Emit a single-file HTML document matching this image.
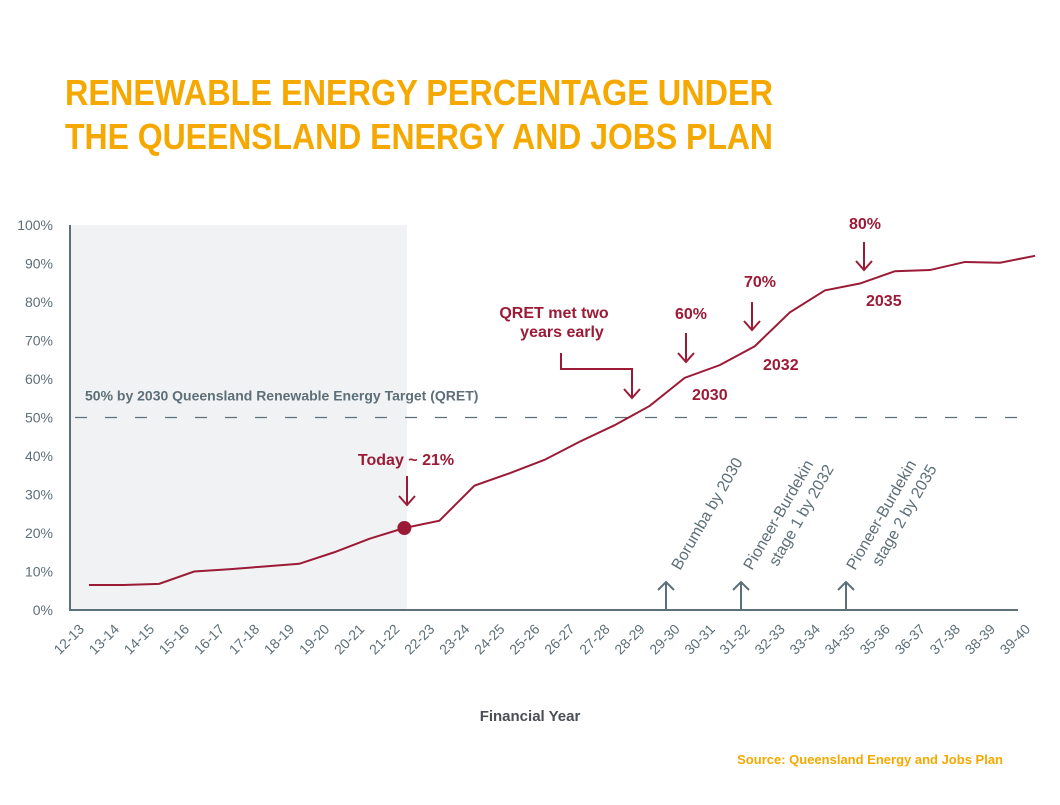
<!DOCTYPE html>
<html><head><meta charset="utf-8">
<style>
html,body{margin:0;padding:0;background:#fff;}
svg{display:block;font-family:"Liberation Sans",sans-serif;}
</style></head>
<body>
<svg id="chart" width="1060" height="805" viewBox="0 0 1060 805" xmlns="http://www.w3.org/2000/svg">
<text x="65" y="105" fill="#f5a800" font-weight="bold" font-size="36" textLength="708" lengthAdjust="spacingAndGlyphs">RENEWABLE ENERGY PERCENTAGE UNDER</text>
<text x="65" y="149" fill="#f5a800" font-weight="bold" font-size="36" textLength="708" lengthAdjust="spacingAndGlyphs">THE QUEENSLAND ENERGY AND JOBS PLAN</text>
<rect x="70" y="225" width="337" height="385" fill="#f1f2f4"/>
<g id="yticks"></g>
<g id="xticks"></g>
<line id="qret" x1="75" x2="1018" stroke="#5d6f78" stroke-width="1.2" stroke-dasharray="12,18"/>
<text id="qretLabel" x="85" fill="#5d6f78" font-weight="bold" font-size="14">50% by 2030 Queensland Renewable Energy Target (QRET)</text>
<line x1="70" y1="225" x2="70" y2="611" stroke="#5d6f78" stroke-width="2"/>
<line x1="69" y1="610" x2="1018" y2="610" stroke="#5d6f78" stroke-width="2"/>
<polyline id="series" fill="none" stroke="#9b1b37" stroke-width="2"/>
<circle id="today" r="7" fill="#9b1b37"/>
<g fill="#9b1b37" font-weight="bold" font-size="16">
<text x="406" y="465" text-anchor="middle">Today ~ 21%</text>
<path d="M407 476 V505 M399 496 L407 505 L415 496" stroke="#9b1b37" stroke-width="2" fill="none"/>
<text x="554" y="318" text-anchor="middle">QRET met two</text>
<text x="562" y="337" text-anchor="middle">years early</text>
<path d="M561 353 V369 H632 V398 M624 389 L632 398 L640 389" stroke="#9b1b37" stroke-width="2" fill="none"/>
<text x="691" y="319" text-anchor="middle">60%</text>
<path d="M686 333 V362 M678 353 L686 362 L694 353" stroke="#9b1b37" stroke-width="2" fill="none"/>
<text x="692" y="400">2030</text>
<text x="760" y="287" text-anchor="middle">70%</text>
<path d="M752 302 V330 M744 321 L752 330 L760 321" stroke="#9b1b37" stroke-width="2" fill="none"/>
<text x="763" y="370">2032</text>
<text x="865" y="229" text-anchor="middle">80%</text>
<path d="M864 242 V270 M856 261 L864 270 L872 261" stroke="#9b1b37" stroke-width="2" fill="none"/>
<text x="866" y="306">2035</text>
</g>
<g fill="#5d6f78" font-size="16">
<path d="M666 610 V582 M658 590 L666 582 L674 590" stroke="#5d6f78" stroke-width="2" fill="none"/>
<text transform="translate(680,571) rotate(-60)">Borumba by 2030</text>
<path d="M741 610 V582 M733 590 L741 582 L749 590" stroke="#5d6f78" stroke-width="2" fill="none"/>
<text transform="translate(752,571) rotate(-60)"><tspan x="0" dy="0">Pioneer-Burdekin</tspan><tspan x="16" dy="20">stage 1 by 2032</tspan></text>
<path d="M846 610 V582 M838 590 L846 582 L854 590" stroke="#5d6f78" stroke-width="2" fill="none"/>
<text transform="translate(855,571) rotate(-60)"><tspan x="0" dy="0">Pioneer-Burdekin</tspan><tspan x="16" dy="20">stage 2 by 2035</tspan></text>
</g>
<text x="530" y="721" text-anchor="middle" fill="#4a4f55" font-weight="bold" font-size="15">Financial Year</text>
<text x="1003" y="764" text-anchor="end" fill="#f5a800" font-weight="bold" font-size="13">Source: Queensland Energy and Jobs Plan</text>
</svg>
<script>
const categories = ["12-13","13-14","14-15","15-16","16-17","17-18","18-19","19-20","20-21","21-22","22-23","23-24","24-25","25-26","26-27","27-28","28-29","29-30","30-31","31-32","32-33","33-34","34-35","35-36","36-37","37-38","38-39","39-40"];
const renewableShare = [6.5,6.5,6.8,10,10.6,11.3,12,15,18.5,21.3,23.2,32.3,35.5,39,43.7,48,53,60.3,63.6,68.5,77.3,83,84.8,88,88.3,90.4,90.2,92];
const yTickValues = [0,10,20,30,40,50,60,70,80,90,100];
const targetValue = 50;
const todayIndex = 9;

const NS = "http://www.w3.org/2000/svg";
const xScale = i => 89 + i * 35.04;
const yScale = v => 610 - v * 3.85;

const yt = document.getElementById('yticks');
yTickValues.forEach(v => {
  const t = document.createElementNS(NS, 'text');
  
  
  t.setAttribute('x', 53); t.setAttribute('y', yScale(v) + 5);
  t.setAttribute('text-anchor', 'end'); t.setAttribute('fill', '#5d6f78'); t.setAttribute('font-size', '14');
  t.textContent = v + '%';
  yt.appendChild(t);
});
const xt = document.getElementById('xticks');
categories.forEach((c, i) => {
  const t = document.createElementNS(NS, 'text');
  
  
  t.setAttribute('transform', 'translate(' + (xScale(i) - 4) + ',630) rotate(-45)');
  t.setAttribute('text-anchor', 'end'); t.setAttribute('fill', '#5d6f78'); t.setAttribute('font-size', '14');
  t.textContent = c;
  xt.appendChild(t);
});
document.getElementById('series').setAttribute('points', renewableShare.map((v, i) => xScale(i) + ',' + yScale(v)).join(' '));
const q = document.getElementById('qret');
q.setAttribute('y1', yScale(targetValue)); q.setAttribute('y2', yScale(targetValue));
document.getElementById('qretLabel').setAttribute('y', yScale(targetValue) - 17);
const td = document.getElementById('today');
td.setAttribute('cx', xScale(todayIndex)); td.setAttribute('cy', yScale(renewableShare[todayIndex]));
</script>
</body></html>
